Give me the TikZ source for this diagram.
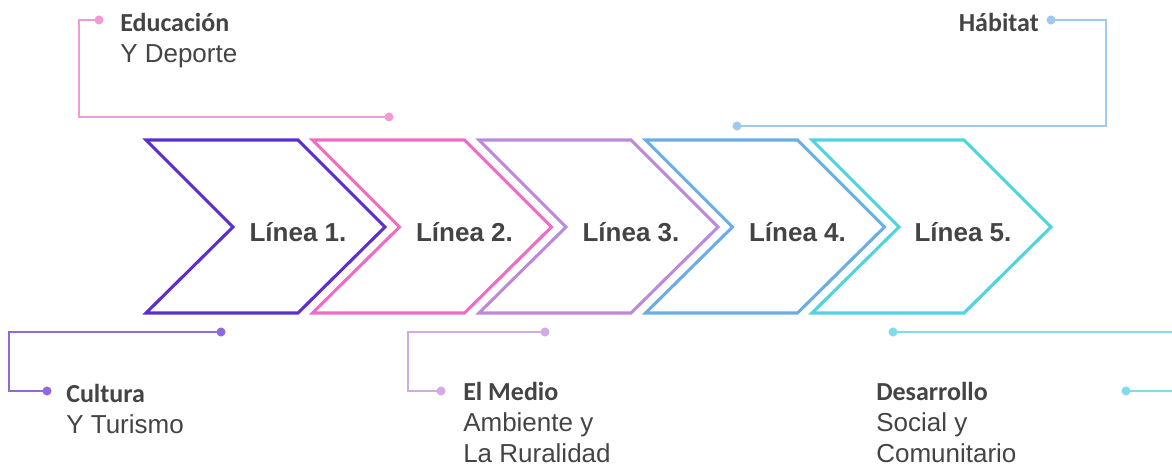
\documentclass[tikz,border=0pt]{standalone}
\usepackage{fontspec}
\setmainfont{Liberation Sans}
\newfontfamily\titlefont{Carlito}

\definecolor{lineone}{HTML}{5A2ECF}
\definecolor{linetwo}{HTML}{EF6CC2}
\definecolor{linethree}{HTML}{BC8ADC}
\definecolor{linefour}{HTML}{6BAEE5}
\definecolor{linefive}{HTML}{4ED4DE}
\definecolor{wirepink}{HTML}{F39AD6}
\definecolor{wireblue}{HTML}{9FCAEE}
\definecolor{wirepurple}{HTML}{8E6ADC}
\definecolor{wirelilac}{HTML}{D2AAE8}
\definecolor{wirecyan}{HTML}{80DCE6}
\definecolor{textgray}{HTML}{444444}

\tikzset{
	chevron/.style={line width=2.3pt, line join=miter},
	wire/.style={line width=2.1pt},
	linelabel/.style={anchor=base, inner sep=0pt, text=textgray,
		font=\fontsize{19.5}{24}\selectfont\bfseries},
	topic/.style={anchor=base west, inner sep=0pt, align=left, text=textgray,
		font=\fontsize{19.5}{23.5}\selectfont}
}

\begin{document}
\begin{tikzpicture}[x=0.75pt, y=-0.75pt]
				\useasboundingbox (0,0) rectangle (1172,466);
				
				\draw[chevron, lineone] (146,140) -- (298,140) -- (385,227) -- (298,313) -- (146,313) -- (233,227) -- cycle;
				\draw[chevron, linetwo] (312.5,140) -- (464.5,140) -- (551.5,227) -- (464.5,313) -- (312.5,313) -- (399.5,227) -- cycle;
				\draw[chevron, linethree] (479,140) -- (631,140) -- (718,227) -- (631,313) -- (479,313) -- (566,227) -- cycle;
				\draw[chevron, linefour] (645.5,140) -- (797.5,140) -- (884.5,227) -- (797.5,313) -- (645.5,313) -- (732.5,227) -- cycle;
				\draw[chevron, linefive] (812,140) -- (964,140) -- (1051,227) -- (964,313) -- (812,313) -- (899,227) -- cycle;
				
				\node[linelabel] (l1) at (298,242) {Línea 1.};
				\node[linelabel] (l2) at (464.5,242) {Línea 2.};
				\node[linelabel] (l3) at (631,242) {Línea 3.};
				\node[linelabel] (l4) at (797.5,242) {Línea 4.};
				\node[linelabel] (l5) at (963,242) {Línea 5.};
				
				% connector ends
				\coordinate (edu in) at (99,20);
				\coordinate (edu out) at (389,117);
				\coordinate (hab in) at (1051,20);
				\coordinate (hab out) at (737,126);
				\coordinate (cul in) at (47,391);
				\coordinate (cul out) at (221,332);
				\coordinate (med in) at (441,391);
				\coordinate (med out) at (545,332);
				\coordinate (des out) at (893,332);
				\coordinate (des edge) at (1172,332);
				\coordinate (des in) at (1126,391);
				\coordinate (des edge2) at (1172,391);
				
				\draw[wire, wirepink] (edu in) -- (79,20) |- (edu out);
				\draw[wire, wireblue] (hab in) -- (1106,20) |- (hab out);
				\draw[wire, wirepurple] (cul out) -- (9,332) |- (cul in);
				\draw[wire, wirelilac] (med out) -- (408,332) |- (med in);
				\draw[wire, wirecyan] (des out) -- (des edge);
				\draw[wire, wirecyan] (des in) -- (des edge2);
				
				\fill[wirepink] (edu in) circle (3.4pt);
				\fill[wirepink] (edu out) circle (3.4pt);
				\fill[wireblue] (hab in) circle (3.4pt);
				\fill[wireblue] (hab out) circle (3.4pt);
				\fill[wirepurple] (cul in) circle (3.4pt);
				\fill[wirepurple] (cul out) circle (3.4pt);
				\fill[wirelilac] (med in) circle (3.4pt);
				\fill[wirelilac] (med out) circle (3.4pt);
				\fill[wirecyan] (des out) circle (3.4pt);
				\fill[wirecyan] (des in) circle (3.4pt);
				
				% texts sit on the baseline of their last line
				\node[topic] (edu) at (120,63) {{\titlefont\bfseries Educación}\\Y Deporte};
				\node[topic, anchor=base east] (hab) at (1039,32) {{\titlefont\bfseries Hábitat}};
				\node[topic] (cul) at (66,434) {{\titlefont\bfseries Cultura}\\Y Turismo};
				\node[topic, text depth=0pt] (med) at (463,463) {{\titlefont\bfseries El Medio}\\Ambiente y\\La Ruralidad};
				\node[topic, text depth=0pt] (des) at (876,463) {{\titlefont\bfseries Desarrollo}\\Social y\\Comunitario};
\end{tikzpicture}
\end{document}
